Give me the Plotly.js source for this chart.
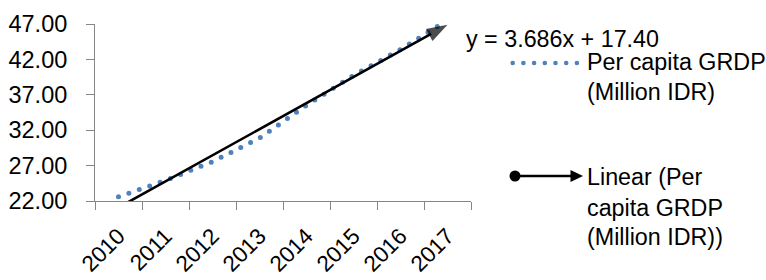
<!DOCTYPE html>
<html><head><meta charset="utf-8">
<script src="https://cdn.plot.ly/plotly-3.0.1.min.js"></script>
<style>
html,body{margin:0;padding:0;background:#fff;}
#chart{width:766px;height:280px;}
.js-line{stroke-linecap:round;}
.shapelayer path{stroke-linecap:round;}
</style>
</head><body><div id="chart"></div>
<script>
// ---- data ----
const years = ['2010','2011','2012','2013','2014','2015','2016','2017'];
const grdp = [22.6, 24.9, 27.55, 30.9, 35.5, 39.75, 43.4, 47.55];
const trendSlope = 3.686;
const trendIntercept = 17.40;
const yTicks = [22, 27, 32, 37, 42, 47];
const seriesName = 'Per capita GRDP (Million IDR)';
const trendName = 'Linear (Per capita GRDP (Million IDR))';
const equationText = 'y = 3.686x + 17.40';

// ---- layout geometry (pixels) ----
const FIG_W = 766, FIG_H = 280;
const PL = 95, PR = 471, PT = 24, PB = 201;
const PW = PR - PL, PH = PB - PT;
const fx = px => (px - PL) / PW;
const fy = py => (PB - py) / PH;

const FONT = 'Liberation Sans, Arial, sans-serif';
const BLUE = '#4F81BD';
const AXIS = '#868686';
const YTICK_SIZE = 23.5;
const XTICK_SIZE = 22.5;
const TEXT_SIZE = 23.3;

// trendline endpoints from the equation (x = category index 1..n)
const trendIdx = [1, years.length];
const trendXs = trendIdx.map(i => years[i - 1]);
const trendYs = trendIdx.map(i => trendSlope * i + trendIntercept);

const traces = [
  {
    x: years, y: grdp, type: 'scatter', mode: 'lines', name: seriesName,
    line: {color: BLUE, width: 5, dash: '0px,11px'},
    hoverinfo: 'x+y'
  },
  {
    x: trendXs, y: trendYs, type: 'scatter', mode: 'lines+markers', name: trendName,
    line: {color: '#000', width: 2.6},
    marker: {color: '#000', symbol: ['circle', 'arrow'], size: [14, 22], angleref: 'previous',
             line: {width: 0}},
    hoverinfo: 'x+y'
  }
];

// legend built from shapes + annotations (Excel style)
const legDotY = 63, legTrY = 176;
const shapes = [
  {type: 'line', xref: 'paper', yref: 'paper', x0: fx(512.7), x1: fx(577), y0: fy(legDotY), y1: fy(legDotY),
   line: {color: BLUE, width: 4.6, dash: '0px,10.7px'}},
  {type: 'line', xref: 'paper', yref: 'paper', x0: fx(515), x1: fx(572), y0: fy(legTrY), y1: fy(legTrY),
   line: {color: '#000', width: 2.6}},
  {type: 'circle', xref: 'paper', yref: 'paper', x0: fx(509.5), x1: fx(520.5), y0: fy(legTrY - 5.5), y1: fy(legTrY + 5.5),
   fillcolor: '#000', line: {color: '#000', width: 0}},
  {type: 'path', xref: 'paper', yref: 'paper',
   path: 'M' + fx(583) + ',' + fy(legTrY) + ' L' + fx(570.5) + ',' + fy(legTrY - 6) + ' L' + fx(570.5) + ',' + fy(legTrY + 6) + ' Z',
   fillcolor: '#000', line: {color: '#000', width: 0}}
];

function textAnn(txt, px, py, size) {
  return {text: txt, xref: 'paper', yref: 'paper', x: fx(px), y: fy(py), xanchor: 'left', yanchor: 'middle',
          showarrow: false, font: {family: FONT, size: size, color: '#000'}, borderpad: 0};
}
const seriesLines = ['Per capita GRDP', '(Million IDR)'];
const trendLines = ['Linear (Per', 'capita GRDP', '(Million IDR))'];
const annotations = [
  textAnn(equationText, 465, 39, TEXT_SIZE),
  textAnn(seriesLines[0], 586, 62, TEXT_SIZE),
  textAnn(seriesLines[1], 586, 92, TEXT_SIZE),
  textAnn(trendLines[0], 586, 176.5, TEXT_SIZE),
  textAnn(trendLines[1], 586, 207.5, TEXT_SIZE),
  textAnn(trendLines[2], 586, 237, TEXT_SIZE)
];

const layout = {
  width: FIG_W, height: FIG_H,
  margin: {l: PL, r: FIG_W - PR, t: PT, b: FIG_H - PB, pad: 0},
  paper_bgcolor: '#fff', plot_bgcolor: '#fff',
  showlegend: false,
  font: {family: FONT, size: YTICK_SIZE, color: '#000'},
  xaxis: {
    type: 'category', categoryorder: 'array', categoryarray: years,
    range: [-0.5, years.length - 0.5], tickson: 'boundaries',
    ticks: 'outside', ticklen: 8, tickwidth: 1, tickcolor: AXIS,
    showline: true, linecolor: AXIS, linewidth: 1, showgrid: false, zeroline: false,
    tickangle: -45, tickfont: {family: FONT, size: XTICK_SIZE, color: '#000'}, ticklabelstandoff: 12,
    fixedrange: true
  },
  yaxis: {
    range: [22, 47], tickvals: yTicks, tickformat: '.2f',
    ticks: 'outside', ticklen: 8, tickwidth: 1, tickcolor: AXIS,
    showline: true, linecolor: AXIS, linewidth: 1, showgrid: false, zeroline: false,
    tickfont: {family: FONT, size: YTICK_SIZE, color: '#000'}, ticklabelstandoff: 14,
    fixedrange: true
  },
  shapes: shapes,
  annotations: annotations
};

Plotly.newPlot('chart', traces, layout, {displayModeBar: false, staticPlot: true});
</script>
</body></html>
